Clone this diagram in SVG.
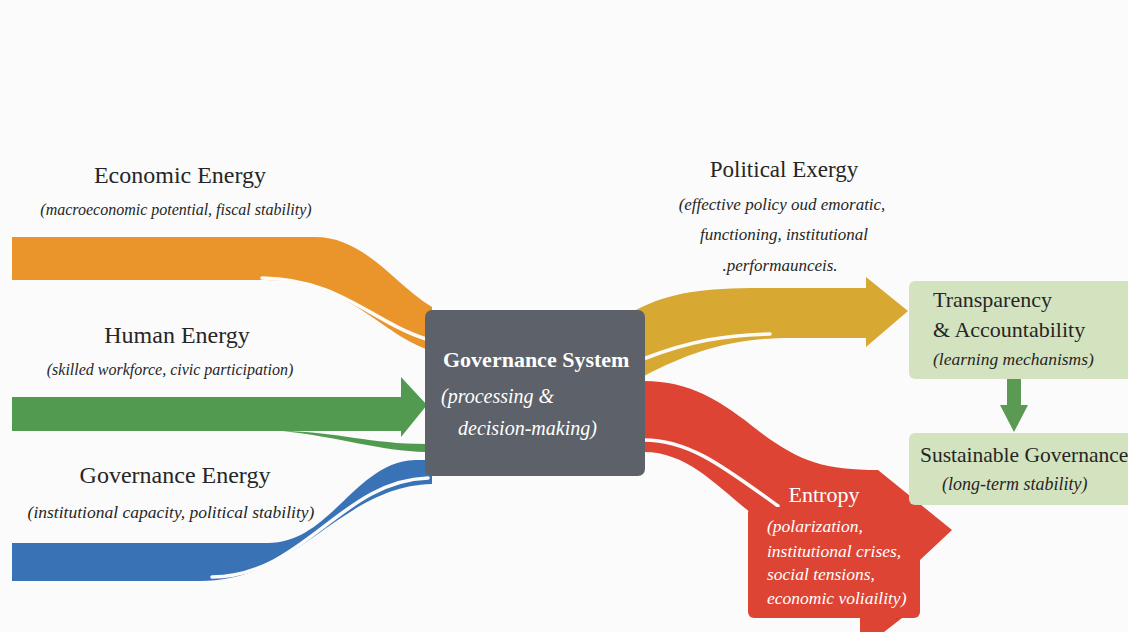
<svg xmlns="http://www.w3.org/2000/svg" width="1128" height="632" viewBox="0 0 1128 632">
<defs>
<style>
.t{font-family:"Liberation Serif","Times New Roman",serif;fill:#262626}
.ti{font-family:"Liberation Serif","Times New Roman",serif;font-style:italic;fill:#262626}
.w{fill:#ffffff}
.split{fill:none;stroke:#fbfbfb;stroke-width:3.5;stroke-linecap:round}
.node-g{fill:#d4e3bf}
</style>
</defs>
<rect x="0" y="0" width="1128" height="632" fill="#fbfbfb"/>

<g id="connectors">
  <!-- Economic energy flow (orange) -->
  <path d="M12,237 L315,237 C365,237 395,285 432,307 L432,351 C380,335 350,280 265,280 L12,280 Z" fill="#e9952c"/>
  <path class="split" d="M262,278 C340,279 372,322 426,339"/>
  <!-- Human energy flow (green) -->
  <path d="M282,431 C340,432 370,444 426,444 L426,452 C380,451 340,437 282,431 Z" fill="#519a4f"/>
  <path d="M12,397 L401,397 L401,377 L427,405 L401,437 L401,431 L12,431 Z" fill="#519a4f"/>
  <!-- Governance energy flow (blue) -->
  <path d="M12,543 L268,543 C330,543 355,462 415,460 L432,460 L432,484 C340,486 300,581 200,581 L12,581 Z" fill="#3a73b5"/>
  <path class="split" d="M212,577 C305,576 340,481 428,478"/>
  <!-- Political exergy flow (yellow) -->
  <path d="M636,310 C670,292 705,288 760,288 L866,288 L866,277 L908,311 L866,347 L866,338 L790,338 C730,338 690,352 644,376 Z" fill="#d8a932"/>
  <path class="split" d="M646,358 C690,341 725,335 770,334"/>
  <!-- Entropy flow (red) -->
  <path d="M644,381 C690,381 720,400 760,432 C800,462 825,470 878,470 L878,520 L760,520 C720,490 690,452 644,452 Z" fill="#dd4434"/>
  <path class="split" d="M644,440 C690,440 725,468 778,506"/>
  <path d="M878,470 L952,530 L920,560 L920,604 L884,632 L860,632 L860,470 Z" fill="#dd4434"/>
  <path d="M920,560 L920,604 L896,620 L896,580 Z" fill="#c9382b"/>
  <!-- Transparency to Sustainable (green down arrow) -->
  <path d="M1007,379 L1021,379 L1021,405 L1028,405 L1014,432 L1000,405 L1007,405 Z" fill="#5a9a52"/>
</g>

<g id="economic-energy">
  <text class="t" x="180" y="183" font-size="24" text-anchor="middle">Economic Energy</text>
  <text class="ti" x="176" y="215" font-size="16" text-anchor="middle">(macroeconomic potential, fiscal stability)</text>
</g>

<g id="human-energy">
  <text class="t" x="177" y="343" font-size="24" text-anchor="middle">Human Energy</text>
  <text class="ti" x="170" y="375" font-size="16" text-anchor="middle">(skilled workforce, civic participation)</text>
</g>

<g id="governance-energy">
  <text class="t" x="175" y="483" font-size="24" text-anchor="middle">Governance Energy</text>
  <text class="ti" x="171" y="518" font-size="17.5" text-anchor="middle">(institutional capacity, political stability)</text>
</g>

<g id="governance-system">
  <rect x="425" y="310" width="220" height="166" rx="7" fill="#5d6169"/>
  <text class="t w" x="443" y="367" font-size="22" font-weight="bold" style="fill:#ffffff">Governance System</text>
  <text class="ti" x="441" y="403" font-size="20" style="fill:#ffffff">(processing &amp;</text>
  <text class="ti" x="458" y="435" font-size="20" style="fill:#ffffff">decision-making)</text>
</g>

<g id="political-exergy">
  <text class="t" x="784" y="177" font-size="23" text-anchor="middle">Political Exergy</text>
  <text class="ti" x="782" y="210" font-size="17" text-anchor="middle">(effective policy oud emoratic,</text>
  <text class="ti" x="784" y="240" font-size="17" text-anchor="middle">functioning, institutional</text>
  <text class="ti" x="780" y="271" font-size="17" text-anchor="middle">.performaunceis.</text>
</g>

<g id="transparency">
  <rect class="node-g" x="909" y="281" width="230" height="98" rx="6"/>
  <text class="t" x="933" y="307" font-size="22">Transparency</text>
  <text class="t" x="933" y="337" font-size="22">&amp; Accountability</text>
  <text class="ti" x="933" y="365" font-size="17.5">(learning mechanisms)</text>
</g>

<g id="sustainable-governance">
  <rect class="node-g" x="909" y="433" width="230" height="72" rx="6"/>
  <text class="t" x="920" y="462" font-size="21.5">Sustainable Governance</text>
  <text class="ti" x="942" y="490" font-size="18">(long-term stability)</text>
</g>

<g id="entropy">
  <rect x="748" y="507" width="172" height="111" rx="6" fill="#dd4434"/>
  <text class="t" x="824" y="502" font-size="22" text-anchor="middle" style="fill:#ffffff">Entropy</text>
  <text class="ti" x="767" y="532" font-size="17.5" style="fill:#ffffff">(polarization,</text>
  <text class="ti" x="767" y="557" font-size="17.5" style="fill:#ffffff">institutional crises,</text>
  <text class="ti" x="767" y="580" font-size="17.5" style="fill:#ffffff">social tensions,</text>
  <text class="ti" x="767" y="604" font-size="17.5" style="fill:#ffffff">economic voliaility)</text>
</g>
</svg>
